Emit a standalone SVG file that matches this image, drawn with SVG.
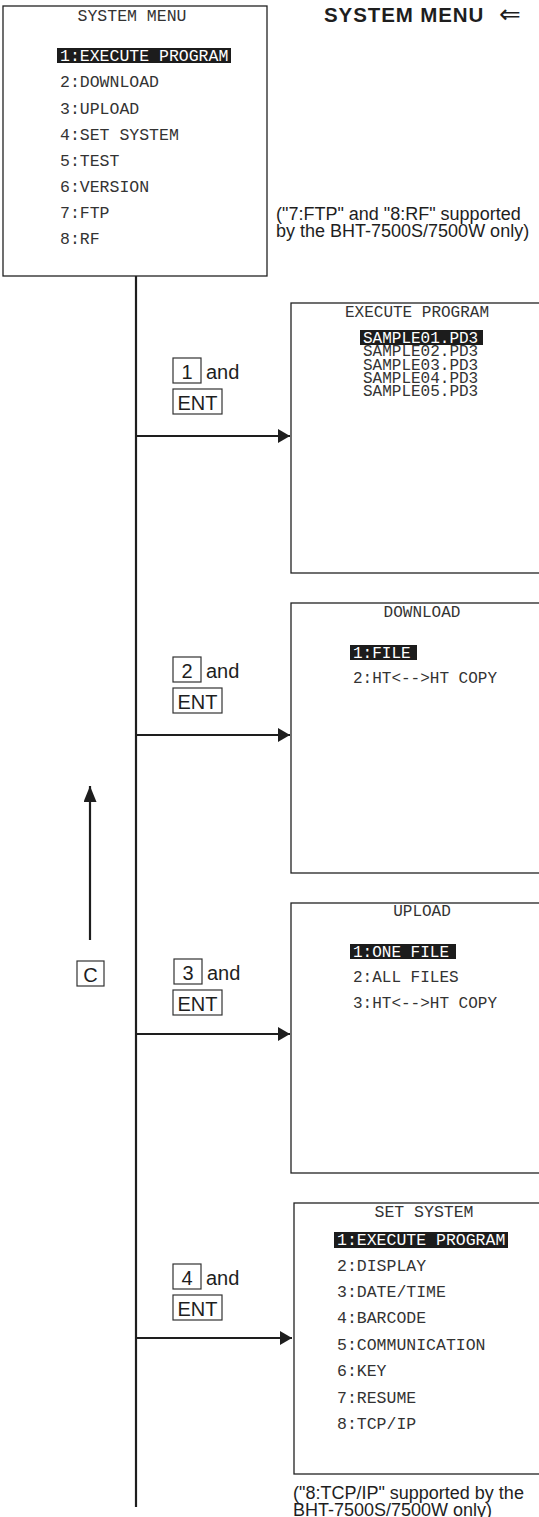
<svg xmlns="http://www.w3.org/2000/svg" width="539" height="1517" viewBox="0 0 539 1517">
<defs>
<style>
.scr{fill:#fff;stroke:#222;stroke-width:1.3}
.mono{font-family:"Liberation Mono","Courier New",monospace;font-size:16px;fill:#333}
.mm{font-size:16.5px}
.inv{fill:#fff}
.hl{fill:#1c1c1c}
.sans{font-family:"Liberation Sans",Arial,sans-serif;fill:#1e1e1e}
.key{fill:#fff;stroke:#333;stroke-width:1.2}
.kt{font-family:"Liberation Sans",Arial,sans-serif;font-size:20px;fill:#1e1e1e}
.ln{stroke:#1e1e1e;stroke-width:2.2;fill:none}
.note{font-family:"Liberation Sans",Arial,sans-serif;font-size:18px;fill:#1e1e1e}
</style>
<marker id="ah" viewBox="0 0 12 14" refX="12" refY="7" markerWidth="12" markerHeight="14" markerUnits="userSpaceOnUse" orient="auto">
<path d="M0,0 L12,7 L0,14 Z" fill="#1e1e1e"/>
</marker>
<marker id="ahu" viewBox="0 0 16 13" refX="16" refY="6.5" markerWidth="16" markerHeight="13" markerUnits="userSpaceOnUse" orient="auto">
<path d="M0,0 L16,6.5 L0,13 Z" fill="#1e1e1e"/>
</marker>
</defs>

<g id="title">
<text x="324" y="22" class="sans" font-size="20.5" font-weight="bold" letter-spacing="0.9">SYSTEM MENU</text>
<text x="499" y="23" font-family="DejaVu Sans,sans-serif" font-size="26" fill="#1e1e1e">⇐</text>
</g>

<g id="connectors">
<line class="ln" x1="136" y1="276" x2="136" y2="1507"/>
<line class="ln" x1="136" y1="436" x2="290" y2="436" marker-end="url(#ah)"/>
<line class="ln" x1="136" y1="735" x2="290" y2="735" marker-end="url(#ah)"/>
<line class="ln" x1="136" y1="1034" x2="290" y2="1034" marker-end="url(#ah)"/>
<line class="ln" x1="136" y1="1338" x2="292" y2="1338" marker-end="url(#ah)"/>
<line class="ln" x1="90" y1="940" x2="90" y2="786" marker-end="url(#ahu)"/>
</g>

<g id="system-menu">
<rect class="scr" x="3" y="6" width="264" height="270"/>
<text class="mono mm" x="132" y="21" text-anchor="middle">SYSTEM MENU</text>
<rect class="hl" x="57" y="48" width="174" height="15"/>
<text class="mono mm inv" x="60" y="61">1:EXECUTE PROGRAM</text>
<text class="mono mm" x="60" y="87">2:DOWNLOAD</text>
<text class="mono mm" x="60" y="114">3:UPLOAD</text>
<text class="mono mm" x="60" y="140">4:SET SYSTEM</text>
<text class="mono mm" x="60" y="166">5:TEST</text>
<text class="mono mm" x="60" y="192">6:VERSION</text>
<text class="mono mm" x="60" y="218">7:FTP</text>
<text class="mono mm" x="60" y="244">8:RF</text>
</g>

<g id="note-ftp">
<text class="note" x="276" y="220">("7:FTP" and "8:RF" supported</text>
<text class="note" x="276" y="237">by the BHT-7500S/7500W only)</text>
</g>

<g id="execute-program">
<rect class="scr" x="291" y="303" width="260" height="270"/>
<text class="mono" x="417" y="317" text-anchor="middle">EXECUTE PROGRAM</text>
<rect class="hl" x="360" y="330" width="123" height="15"/>
<text class="mono" x="363" y="343"><tspan class="inv">SAMPLE01.PD3</tspan><tspan x="363" y="356">SAMPLE02.PD3</tspan><tspan x="363" y="369.5">SAMPLE03.PD3</tspan><tspan x="363" y="382.5">SAMPLE04.PD3</tspan><tspan x="363" y="396">SAMPLE05.PD3</tspan></text>
</g>

<g id="download">
<rect class="scr" x="291" y="603" width="260" height="270"/>
<text class="mono" x="422" y="617" text-anchor="middle">DOWNLOAD</text>
<rect class="hl" x="350" y="645" width="67" height="15"/>
<text class="mono inv" x="353" y="658">1:FILE</text>
<text class="mono" x="353" y="683">2:HT&lt;--&gt;HT COPY</text>
</g>

<g id="upload">
<rect class="scr" x="291" y="903" width="260" height="270"/>
<text class="mono" x="422" y="916" text-anchor="middle">UPLOAD</text>
<rect class="hl" x="350" y="944" width="106" height="15"/>
<text class="mono inv" x="353" y="957">1:ONE FILE</text>
<text class="mono" x="353" y="982">2:ALL FILES</text>
<text class="mono" x="353" y="1008">3:HT&lt;--&gt;HT COPY</text>
</g>

<g id="set-system">
<rect class="scr" x="294" y="1203" width="260" height="271"/>
<text class="mono mm" x="424" y="1217" text-anchor="middle">SET SYSTEM</text>
<rect class="hl" x="334" y="1232" width="174" height="16"/>
<text class="mono mm inv" x="337" y="1245">1:EXECUTE PROGRAM</text>
<text class="mono mm" x="337" y="1271">2:DISPLAY</text>
<text class="mono mm" x="337" y="1297">3:DATE/TIME</text>
<text class="mono mm" x="337" y="1323">4:BARCODE</text>
<text class="mono mm" x="337" y="1350">5:COMMUNICATION</text>
<text class="mono mm" x="337" y="1376">6:KEY</text>
<text class="mono mm" x="337" y="1403">7:RESUME</text>
<text class="mono mm" x="337" y="1429">8:TCP/IP</text>
</g>

<g id="note-tcp">
<text class="note" x="293" y="1499">("8:TCP/IP" supported by the</text>
<text class="note" x="293" y="1516">BHT-7500S/7500W only)</text>
</g>

<g id="label-1">
<rect class="key" x="173" y="358" width="28" height="25"/>
<text class="kt" x="187" y="379" text-anchor="middle">1</text>
<text class="kt" x="206" y="379">and</text>
<rect class="key" x="173" y="389" width="49" height="25"/>
<text class="kt" x="197.5" y="410" text-anchor="middle">ENT</text>
</g>

<g id="label-2">
<rect class="key" x="173" y="657" width="28" height="25"/>
<text class="kt" x="187" y="678" text-anchor="middle">2</text>
<text class="kt" x="206" y="678">and</text>
<rect class="key" x="173" y="688" width="49" height="25"/>
<text class="kt" x="197.5" y="709" text-anchor="middle">ENT</text>
</g>

<g id="label-3">
<rect class="key" x="174" y="959" width="28" height="25"/>
<text class="kt" x="188" y="980" text-anchor="middle">3</text>
<text class="kt" x="207" y="980">and</text>
<rect class="key" x="173" y="990" width="49" height="25"/>
<text class="kt" x="197.5" y="1011" text-anchor="middle">ENT</text>
</g>

<g id="label-4">
<rect class="key" x="173" y="1264" width="28" height="25"/>
<text class="kt" x="187" y="1285" text-anchor="middle">4</text>
<text class="kt" x="206" y="1285">and</text>
<rect class="key" x="173" y="1295" width="49" height="25"/>
<text class="kt" x="197.5" y="1316" text-anchor="middle">ENT</text>
</g>

<g id="label-c">
<rect class="key" x="77" y="961" width="27" height="25"/>
<text class="kt" x="90.5" y="982" text-anchor="middle">C</text>
</g>
</svg>
